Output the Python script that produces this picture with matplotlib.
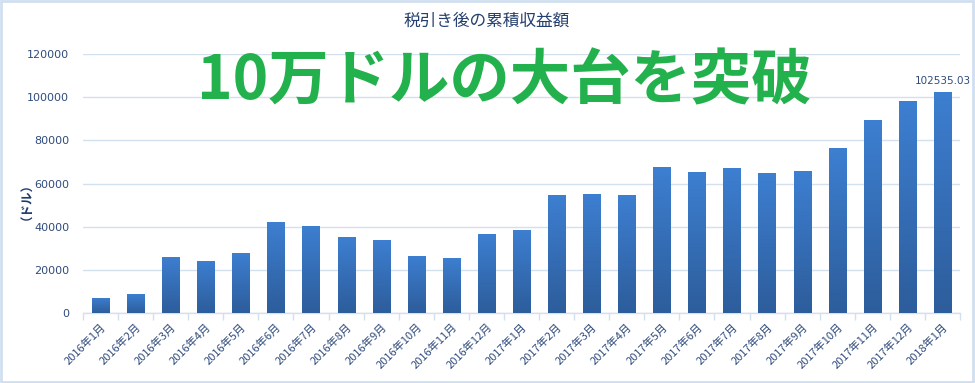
import matplotlib.pyplot as plt
import numpy as np
from matplotlib.patches import Rectangle
from matplotlib.colors import LinearSegmentedColormap

plt.rcParams['font.family'] = ['Noto Sans CJK JP', 'DejaVu Sans']

months = ['2016年1月', '2016年2月', '2016年3月', '2016年4月', '2016年5月', '2016年6月',
          '2016年7月', '2016年8月', '2016年9月', '2016年10月', '2016年11月', '2016年12月',
          '2017年1月', '2017年2月', '2017年3月', '2017年4月', '2017年5月', '2017年6月',
          '2017年7月', '2017年8月', '2017年9月', '2017年10月', '2017年11月', '2017年12月',
          '2018年1月']
profit = [7000, 8800, 26000, 24200, 28000, 42000, 40500, 35000, 33600, 26500, 25700, 36800,
          38600, 54500, 55000, 54500, 67500, 65200, 67000, 64700, 65700, 76300, 89300, 98200,
          102535.03]
yticks = [0, 20000, 40000, 60000, 80000, 100000, 120000]

fig = plt.figure(figsize=(9.75, 3.83), dpi=100)
ax = fig.add_axes([83 / 975, (383 - 313) / 383, (960 - 83) / 975, (313 - 54) / 383])

x = np.arange(len(months))
bars = ax.bar(x, profit, width=0.49, color='#3a78c6', zorder=2)

# vertical gradient inside each bar
grad = np.linspace(0, 1, 256).reshape(-1, 1)
cmap = LinearSegmentedColormap.from_list('bar', ['#2d5d9b', '#3d7fd1'])
for b in bars:
    x0, y0 = b.get_x(), b.get_y()
    im = ax.imshow(grad, extent=(x0, x0 + b.get_width(), y0, y0 + b.get_height()),
                   origin='lower', cmap=cmap, aspect='auto', zorder=3)
    im.set_clip_path(b)

ax.set_xlim(-0.5, len(months) - 0.5)
ax.set_ylim(0, 120000)
ax.set_yticks(yticks)
ax.set_yticklabels([str(v) for v in yticks], fontsize=8, color='#2f4b7c', family='DejaVu Sans')
ax.yaxis.grid(True, color='#d3e0ee', linewidth=1, zorder=0)
ax.tick_params(axis='y', length=0, pad=10)

ax.set_xticks(x)
ax.set_xticklabels(months, rotation=45, ha='right', rotation_mode='anchor',
                   fontsize=8, color='#2f4b7c')
ax.set_xticks(np.arange(len(months) + 1) - 0.5, minor=True)
ax.tick_params(axis='x', which='major', length=0, pad=6)
ax.tick_params(axis='x', which='minor', length=5, color='#d3e0ee', width=1)

for s in ['top', 'right', 'left']:
    ax.spines[s].set_visible(False)
ax.spines['bottom'].set_color('#d3e0ee')
ax.spines['bottom'].set_linewidth(1)

ax.text(x[-1], profit[-1] + 2500, '102535.03', ha='center', va='bottom',
        fontsize=7.5, color='#2f4b7c', family='DejaVu Sans')

fig.text(0.022, 0.49, '（ドル）', rotation=90, ha='center', va='center',
         fontsize=9, color='#1f3b6e', fontweight='bold')
fig.text(0.4995, 0.945, '税引き後の累積収益額', ha='center', va='center',
         fontsize=12, color='#243f6e')
fig.text(0.517, 0.786, '10万ドルの大台を突破', ha='center', va='center',
         fontsize=43.5, color='#22b14c', fontweight='bold')

fig.patches.append(Rectangle((0.001, 0.002), 0.997, 0.995, transform=fig.transFigure,
                             fill=False, edgecolor='#cfdff0', linewidth=2))

fig.savefig('out.png', dpi=100)
